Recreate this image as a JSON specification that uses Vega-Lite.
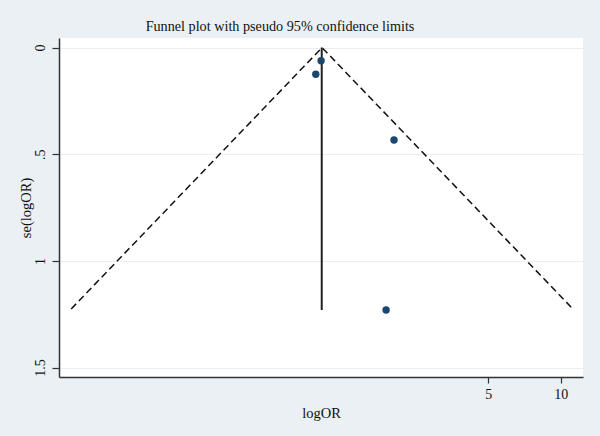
{
  "$schema": "https://vega.github.io/schema/vega-lite/v6.json",
  "width": 524,
  "height": 339,
  "autosize": {"type": "none"},
  "padding": {"left": 59, "top": 38, "right": 17, "bottom": 59},
  "background": "#eaf0f4",
  "title": {
    "text": "Funnel plot with pseudo 95% confidence limits",
    "font": "Liberation Serif",
    "fontSize": 14.2,
    "fontWeight": "normal",
    "color": "#111111",
    "anchor": "middle",
    "dx": -41,
    "offset": 4
  },
  "config": {
    "view": {"fill": "white", "stroke": null},
    "axis": {
      "labelFont": "Liberation Serif",
      "titleFont": "Liberation Serif",
      "labelFontSize": 14,
      "titleFontSize": 14.5,
      "titleFontWeight": "normal",
      "labelColor": "#111111",
      "titleColor": "#111111",
      "domainColor": "#333333",
      "domainWidth": 1.5,
      "tickColor": "#333333",
      "tickWidth": 1.2
    }
  },
  "datasets": {
    "studies": [
      {"logOR": 0.009, "se": 0.062},
      {"logOR": -0.042, "se": 0.125},
      {"logOR": 0.707, "se": 0.433},
      {"logOR": 0.631, "se": 1.23}
    ],
    "funnel": [
      {"logOR": -2.383, "se": 1.225, "ord": 1},
      {"logOR": 0.018, "se": 0.0, "ord": 2},
      {"logOR": 2.419, "se": 1.225, "ord": 3}
    ],
    "pooled": [
      {"logOR": 0.015, "se0": 0.0, "se1": 1.23}
    ]
  },
  "layer": [
    {
      "data": {"name": "funnel"},
      "mark": {"type": "line", "color": "#111111", "strokeWidth": 1.5, "strokeDash": [7, 4]},
      "encoding": {
        "x": {
          "field": "logOR", "type": "quantitative",
          "scale": {"domain": [-2.5, 2.516], "nice": false, "zero": false},
          "axis": {
            "title": "logOR",
            "values": [1.6094, 2.3026],
            "labelExpr": "round(exp(datum.value))",
            "grid": false,
            "tickSize": 6,
            "labelPadding": 4,
            "titlePadding": 5
          }
        },
        "y": {
          "field": "se", "type": "quantitative",
          "scale": {"domain": [-0.045, 1.544], "reverse": true, "nice": false, "zero": false},
          "axis": {
            "title": "se(logOR)",
            "values": [0, 0.5, 1, 1.5],
            "labelExpr": "datum.value == 0.5 ? '.5' : datum.value == 1.5 ? '1.5' : datum.value == 1 ? '1' : '0'",
            "labelAngle": -90,
            "labelAlign": "center",
            "labelBaseline": "bottom",
            "labelPadding": 5,
            "tickSize": 7,
            "grid": true,
            "gridColor": "#eceff1",
            "gridWidth": 1.2,
            "titlePadding": 0
          }
        },
        "order": {"field": "ord", "type": "quantitative"}
      }
    },
    {
      "data": {"name": "pooled"},
      "mark": {"type": "rule", "color": "#222222", "strokeWidth": 2},
      "encoding": {
        "x": {"field": "logOR", "type": "quantitative"},
        "y": {"field": "se0", "type": "quantitative"},
        "y2": {"field": "se1"}
      }
    },
    {
      "data": {"name": "studies"},
      "mark": {"type": "point", "filled": true, "color": "#1a476f", "size": 55, "opacity": 1},
      "encoding": {
        "x": {"field": "logOR", "type": "quantitative"},
        "y": {"field": "se", "type": "quantitative"}
      }
    }
  ]
}
